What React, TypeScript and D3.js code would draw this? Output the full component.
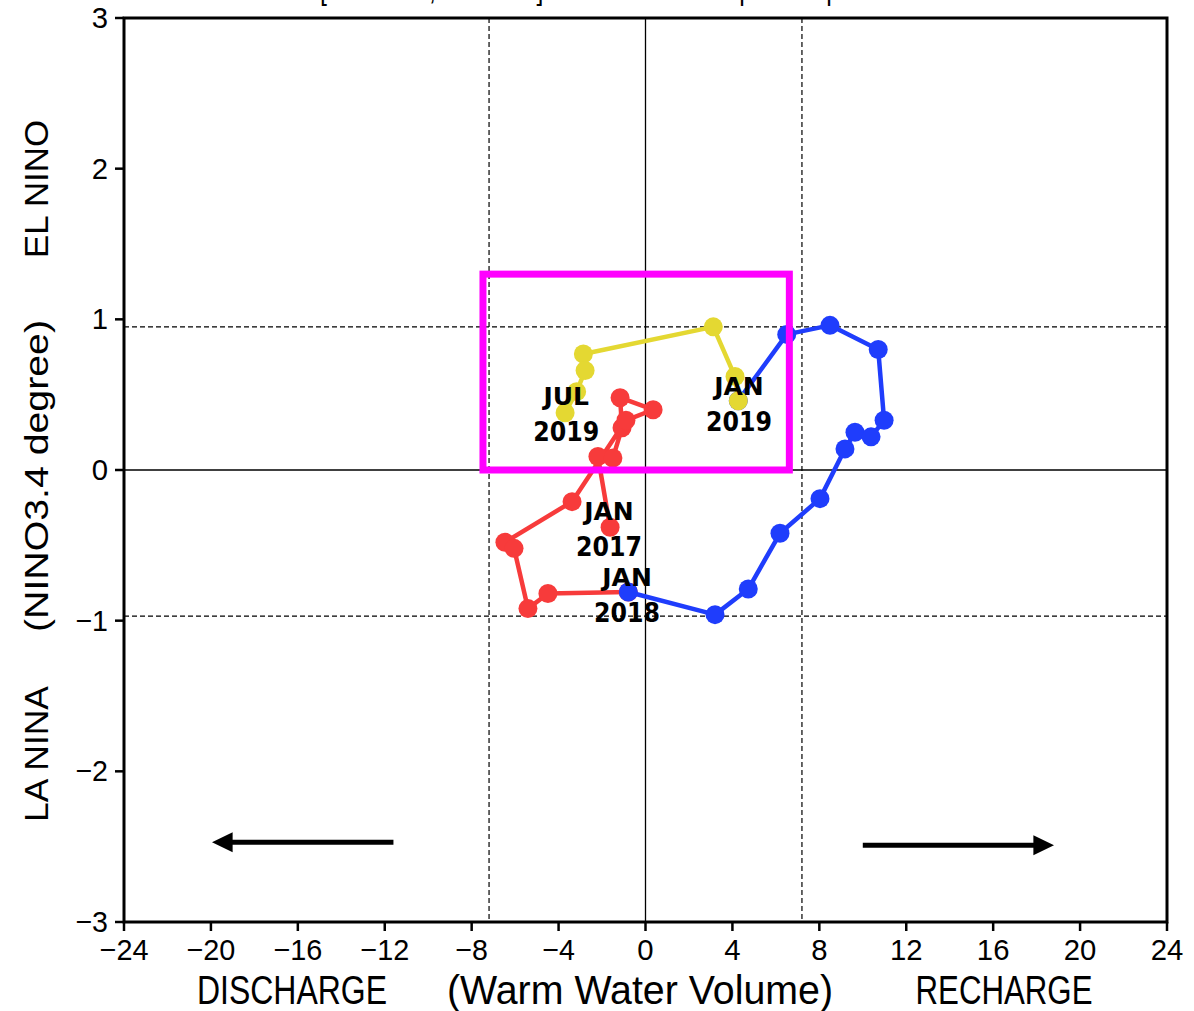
import React from "react";
import * as d3 from "d3";

const W = 1194;
const H = 1011;
const plot = { left: 124, top: 18, right: 1167, bottom: 922 };

// monthly path: warm water volume anomaly (x) vs NINO3.4 anomaly (y)
// each year runs Jan..Jan of the next year
const wwv2017 = [-1.63, -2.19, -1.5, -1.08, -1.17, 0.35, -0.9, -3.38, -6.47, -6.05, -5.41, -4.49, -0.79];
const nino2017 = [-0.38, 0.09, 0.08, 0.28, 0.48, 0.4, 0.33, -0.21, -0.48, -0.52, -0.92, -0.82, -0.81];

const wwv2018 = [-0.79, 3.2, 4.73, 6.19, 8.03, 9.18, 9.64, 10.38, 10.98, 10.71, 8.49, 6.5, 4.27];
const nino2018 = [-0.81, -0.96, -0.79, -0.42, -0.19, 0.14, 0.25, 0.22, 0.33, 0.8, 0.96, 0.9, 0.46];

const wwv2019 = [4.27, 4.12, 3.12, -2.86, -2.78, -3.17, -3.7];
const nino2019 = [0.46, 0.62, 0.95, 0.77, 0.66, 0.52, 0.38];

const xTicks = [-24, -20, -16, -12, -8, -4, 0, 4, 8, 12, 16, 20, 24];
const yTicks = [-3, -2, -1, 0, 1, 2, 3];

// +- one standard deviation guides
const wwvSd = [-7.2, 7.2];
const ninoSd = [-0.97, 0.95];

// highlight box
const boxX = [-7.48, 6.62];
const boxY = [0, 1.3];

// month labels: month, year, x, y (baseline of first line)
const labelMonth = ["JAN", "JAN", "JUL", "JAN"];
const labelYear = ["2017", "2018", "2019", "2019"];
const labelX = [-1.68, -0.85, -3.65, 4.3];
const labelY = [-0.33, -0.77, 0.43, 0.5];

const series = [
  { xs: wwv2017, ys: nino2017, color: "#f73b3b" },
  { xs: wwv2018, ys: nino2018, color: "#1f3dfc" },
  { xs: wwv2019, ys: nino2019, color: "#e4d832" },
];

const x = d3.scaleLinear().domain([-24, 24]).range([plot.left, plot.right]);
const y = d3.scaleLinear().domain([-3, 3]).range([plot.bottom, plot.top]);

const tickFont = "Liberation Sans, Arial, sans-serif";
const fmt = (v: number) => (v < 0 ? "\u2212" + Math.abs(v) : String(v));

export default function App() {
  const line = d3
    .line<[number, number]>()
    .x((d) => x(d[0]))
    .y((d) => y(d[1]));

  const arrowY1 = y(-2.47);
  const arrowY2 = y(-2.49);

  return (
    <svg
      width={W}
      height={H}
      style={{ position: "absolute", left: 0, top: 0, background: "#fff" }}
    >
      <text x={320} y={-1} fontFamily={tickFont} fontSize={33} textLength={560} lengthAdjust="spacingAndGlyphs">
        [Jan 2017, Jul 2019] WWV - NINO3.4 phase space
      </text>

      {/* guides */}
      {wwvSd.map((v) => (
        <line key={"vx" + v} x1={x(v)} x2={x(v)} y1={plot.top} y2={plot.bottom} stroke="#000" strokeWidth={1.2} strokeDasharray="5,3" />
      ))}
      {ninoSd.map((v) => (
        <line key={"hy" + v} x1={plot.left} x2={plot.right} y1={y(v)} y2={y(v)} stroke="#000" strokeWidth={1.2} strokeDasharray="5,3" />
      ))}
      <line x1={x(0)} x2={x(0)} y1={plot.top} y2={plot.bottom} stroke="#000" strokeWidth={1.3} />
      <line x1={plot.left} x2={plot.right} y1={y(0)} y2={y(0)} stroke="#000" strokeWidth={1.3} />

      {/* trajectories */}
      {series.map((s, i) => {
        const pts: [number, number][] = s.xs.map((v, j) => [v, s.ys[j]]);
        return (
          <g key={i}>
            <path d={line(pts) || ""} fill="none" stroke={s.color} strokeWidth={4.5} strokeLinejoin="round" />
            {pts.map((p, j) => (
              <circle key={j} cx={x(p[0])} cy={y(p[1])} r={9.5} fill={s.color} />
            ))}
          </g>
        );
      })}

      {/* highlight box */}
      <rect
        x={x(boxX[0])}
        y={y(boxY[1])}
        width={x(boxX[1]) - x(boxX[0])}
        height={y(boxY[0]) - y(boxY[1])}
        fill="none"
        stroke="#ff00ff"
        strokeWidth={7}
      />

      {/* month labels */}
      {labelMonth.map((mth, i) => (
        <g key={"lab" + i} fontFamily="DejaVu Sans, sans-serif" fontWeight="bold" textAnchor="middle" fill="#000">
          <text x={x(labelX[i])} y={y(labelY[i])} fontSize={25}>{mth}</text>
          <text x={x(labelX[i])} y={y(labelY[i]) + 36} fontSize={26} textLength={66} lengthAdjust="spacingAndGlyphs">
            {labelYear[i]}
          </text>
        </g>
      ))}

      {/* arrows */}
      <line x1={x(-11.6)} x2={x(-19.2)} y1={arrowY1} y2={arrowY1} stroke="#000" strokeWidth={5} />
      <path
        d={`M${x(-19.95)},${arrowY1} L${x(-19.0)},${arrowY1 - 10} L${x(-19.0)},${arrowY1 + 10} Z`}
        fill="#000"
      />
      <line x1={x(10)} x2={x(18)} y1={arrowY2} y2={arrowY2} stroke="#000" strokeWidth={5} />
      <path
        d={`M${x(18.8)},${arrowY2} L${x(17.85)},${arrowY2 - 10} L${x(17.85)},${arrowY2 + 10} Z`}
        fill="#000"
      />

      {/* frame */}
      <rect x={plot.left} y={plot.top} width={plot.right - plot.left} height={plot.bottom - plot.top} fill="none" stroke="#000" strokeWidth={3} />

      {/* x axis */}
      {xTicks.map((t) => (
        <g key={"xt" + t}>
          <line x1={x(t)} x2={x(t)} y1={plot.bottom} y2={plot.bottom + 9} stroke="#000" strokeWidth={2.5} />
          <text
            x={x(t)}
            y={960}
            textAnchor="middle"
            fontFamily={tickFont}
            fontSize={30}
            textLength={fmt(t).length * 16.3}
            lengthAdjust="spacingAndGlyphs"
          >
            {fmt(t)}
          </text>
        </g>
      ))}

      {/* y axis */}
      {yTicks.map((t) => (
        <g key={"yt" + t}>
          <line x1={plot.left - 9} x2={plot.left} y1={y(t)} y2={y(t)} stroke="#000" strokeWidth={2.5} />
          <text
            x={108}
            y={y(t) + 10}
            textAnchor="end"
            fontFamily={tickFont}
            fontSize={30}
            textLength={fmt(t).length * 16.3}
            lengthAdjust="spacingAndGlyphs"
          >
            {fmt(t)}
          </text>
        </g>
      ))}

      {/* axis titles */}
      <g fontFamily={tickFont} fontSize={40} textAnchor="middle">
        <text x={292} y={1004} textLength={190} lengthAdjust="spacingAndGlyphs">DISCHARGE</text>
        <text x={640} y={1004} textLength={386} lengthAdjust="spacingAndGlyphs">(Warm  Water  Volume)</text>
        <text x={1004} y={1004} textLength={177} lengthAdjust="spacingAndGlyphs">RECHARGE</text>
      </g>
      <g fontFamily={tickFont} fontSize={33} textAnchor="middle">
        <text transform="translate(48,189) rotate(-90)" textLength={138} lengthAdjust="spacingAndGlyphs">EL  NINO</text>
        <text transform="translate(48,476) rotate(-90)" textLength={312} lengthAdjust="spacingAndGlyphs">(NINO3.4  degree)</text>
        <text transform="translate(48,754) rotate(-90)" textLength={136} lengthAdjust="spacingAndGlyphs">LA  NINA</text>
      </g>
    </svg>
  );
}
